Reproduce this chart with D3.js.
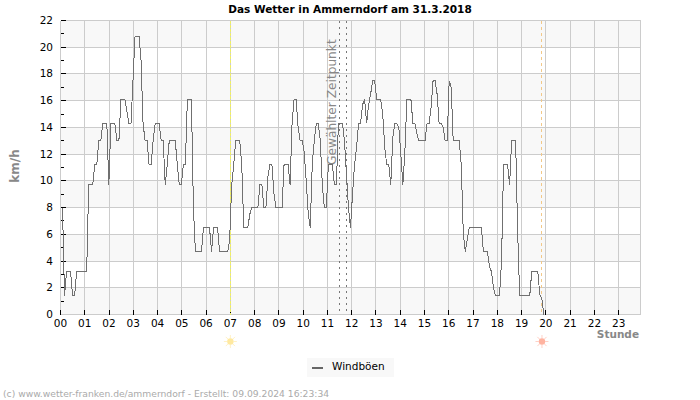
<!DOCTYPE html>
<html><head><meta charset="utf-8">
<script src="https://cdn.jsdelivr.net/npm/d3@7"></script>
<style>html,body{margin:0;padding:0;background:#fff}svg{display:block}text{font-family:"DejaVu Sans",sans-serif}</style>
</head><body><svg id="c" width="700" height="400"></svg>
<script>
const titleText = "Das Wetter in Ammerndorf am 31.3.2018";
const footerText = "(c) www.wetter-franken.de/ammerndorf - Erstellt: 09.09.2024 16:23:34";
const hours = d3.range(0, 24);
const yTicks = d3.range(0, 23, 2);
const yMinorTicks = d3.range(1, 23, 2);
// five-minute gust values, one row per hour
const gusts = [
 null,8,1.4,3.2,3.2,3.2,1.4,1.4,3.2,3.2,3.2,3.2,
 3.2,3.2,9.7,9.7,9.7,11.2,11.2,13,13,14.3,14.3,14.3,
 9.7,14.3,14.3,14.3,13,13,16.1,16.1,16.1,15.2,14.3,14.3,
 17.5,20.8,20.8,20.8,19,14.3,13,13,11.2,11.2,13,14.3,
 14.3,14.3,13,13,9.7,11.2,13,13,13,13,11.2,9.7,
 9.7,11.2,11.2,16.1,16.1,16.1,8,4.7,4.7,4.7,4.7,6.5,
 6.5,6.5,6.5,4.7,6.5,6.5,6.5,4.7,4.7,4.7,4.7,4.7,
 5.6,9.7,11.2,13,13,13,11.2,6.5,6.5,6.5,7.5,8,
 8,8,8,9.7,9.7,8,8,10.3,11.2,11.2,9,8,
 8,8,8,11.2,11.2,11.2,9.7,14.4,16.1,16.1,14,13,
 13,12.2,10,7.6,6.5,11.2,13,14.3,14.3,13,9.7,8,
 8,11.2,11.2,11.2,9.7,9.7,14.3,14.3,14.3,13,10.5,8,
 6.5,9,11.2,12.5,14.3,14.3,15.7,16.1,14.3,15.7,16.5,17.5,
 17.5,16.1,16.1,16.1,15,12.5,11.2,11.2,9.7,13.2,14.3,14.3,
 14,12,9.7,12.2,16.1,16.1,16.1,14.3,14.3,13.5,13,13,
 13,13,14.3,14.3,15.5,17.5,17.5,16.5,14.3,14.3,14,13,
 13,17.5,17,13,13,13,13,11.2,6.1,4.7,5.6,6.5,
 6.5,6.5,6.5,6.5,6.5,6.5,4.7,4.7,4.7,3.6,3.2,2,
 1.4,1.4,1.4,4,11.2,11.2,11.2,9.7,13,13,13,6.2,
 1.4,1.4,1.4,1.4,1.4,1.4,3.2,3.2,3.2,3.2,1.5,1.2,
 0
];
const sunrise = 7;
const sunset = 19.84;
const selectedWindow = [11.5, 11.77];

const pL = 60.5, pR = 640.5, pT = 20.5, pB = 314.5;
const svg = d3.select("#c");
const xHour = d3.scaleLinear().domain([0, 23.9]).range([pL, pR]);
const xSlot = d3.scaleLinear().domain([0, 288]).range([pL, pR]);
const y = d3.scaleLinear().domain([0, 22]).range([pB, pT]);

// alternating bands
svg.append("g").selectAll("rect")
  .data(yTicks.filter(v => v < 22 && v % 4 === 0))
  .join("rect")
  .attr("x", pL).attr("width", pR - pL)
  .attr("y", d => y(d + 2)).attr("height", d => y(d) - y(d + 2))
  .attr("fill", "#f8f8f8");

const gridColor = "#cccccc";
const grid = svg.append("g").attr("stroke", gridColor).attr("shape-rendering", "crispEdges");
grid.selectAll(".h").data(yTicks).join("line").attr("class", "h")
  .attr("x1", pL).attr("x2", pR).attr("y1", d => y(d)).attr("y2", d => y(d));
grid.selectAll(".v").data(hours.concat([23.9])).join("line").attr("class", "v")
  .attr("y1", pT).attr("y2", pB).attr("x1", d => xHour(d)).attr("x2", d => xHour(d));

// ticks
const ticks = svg.append("g").attr("stroke", "#000").attr("shape-rendering", "crispEdges");
ticks.selectAll(".mj").data(yTicks.filter(v => v > 0)).join("line").attr("class", "mj")
  .attr("x1", pL).attr("x2", pL + 5).attr("y1", d => y(d)).attr("y2", d => y(d));
ticks.selectAll(".mn").data(yMinorTicks).join("line").attr("class", "mn")
  .attr("x1", pL).attr("x2", pL + 3).attr("y1", d => y(d)).attr("y2", d => y(d));
ticks.selectAll(".xt").data(hours).join("line").attr("class", "xt")
  .attr("x1", d => xHour(d)).attr("x2", d => xHour(d)).attr("y1", pB - 5).attr("y2", pB);

// marker lines
function marker(h, color, dash) {
  svg.append("line").attr("x1", xHour(h)).attr("x2", xHour(h)).attr("y1", pT).attr("y2", pB)
    .attr("stroke", color).attr("stroke-dasharray", dash).attr("shape-rendering", "crispEdges");
}
marker(sunrise, "#eeee66", "3,1");
marker(sunset, "#f2c888", "3,3");
selectedWindow.forEach(h => marker(h, "#777", "2,4"));

// selected label
svg.append("text").attr("transform", "translate(336,165) rotate(-90)")
  .attr("font-size", 12.2).attr("fill", "#888").text("Gewählter Zeitpunkt");

// series
const line = d3.line().defined(d => d != null).x((d, i) => xSlot(i)).y(d => y(d));
svg.append("path").attr("d", line(gusts)).attr("fill", "none").attr("stroke", "#707070")
  .attr("stroke-width", 1).attr("shape-rendering", "crispEdges");

// axis labels
svg.append("g").selectAll("text").data(yTicks).join("text")
  .attr("x", 53).attr("y", d => y(d) + 3.5).attr("text-anchor", "end")
  .attr("font-size", 10.5).attr("fill", "#000").text(d => d);
svg.append("g").selectAll("text").data(hours).join("text")
  .attr("x", d => xHour(d)).attr("y", 327).attr("text-anchor", "middle")
  .attr("font-size", 10.5).attr("fill", "#000").text(d => String(d).padStart(2, "0"));

svg.append("text").attr("x", 350).attr("y", 12.5).attr("text-anchor", "middle")
  .attr("font-size", 10.5).attr("font-weight", "bold").attr("fill", "#000").text(titleText);
svg.append("text").attr("transform", "translate(19,166) rotate(-90)").attr("text-anchor", "middle")
  .attr("font-size", 12).attr("font-weight", "bold").attr("fill", "#888").text("km/h");
svg.append("text").attr("x", 639).attr("y", 338).attr("text-anchor", "end")
  .attr("font-size", 10.5).attr("font-weight", "bold").attr("fill", "#888").text("Stunde");

// sun icons
function sun(h, color) {
  const g = svg.append("g").attr("transform", `translate(${xHour(h)},341.5)`);
  g.append("circle").attr("r", 3.2).attr("fill", color);
  g.selectAll("line").data(d3.range(0, 360, 45)).join("line")
    .attr("x1", d => 3.2 * Math.cos(d * Math.PI / 180)).attr("y1", d => 3.2 * Math.sin(d * Math.PI / 180))
    .attr("x2", d => 6.5 * Math.cos(d * Math.PI / 180)).attr("y2", d => 6.5 * Math.sin(d * Math.PI / 180))
    .attr("stroke", color).attr("stroke-opacity", 0.6);
}
sun(sunrise, "#ffe9a0");
sun(sunset, "#ffb3a0");

// legend
svg.append("rect").attr("x", 307).attr("y", 358).attr("width", 87).attr("height", 19).attr("fill", "#f8f8f8");
svg.append("line").attr("x1", 312).attr("x2", 323).attr("y1", 368).attr("y2", 368)
  .attr("stroke", "#666").attr("stroke-width", 2).attr("shape-rendering", "crispEdges");
svg.append("text").attr("x", 332).attr("y", 370).attr("font-size", 10.5).attr("fill", "#000").text("Windböen");

svg.append("text").attr("x", 3).attr("y", 397).attr("font-size", 9.2).attr("fill", "#aaa").text(footerText);
</script></body></html>
